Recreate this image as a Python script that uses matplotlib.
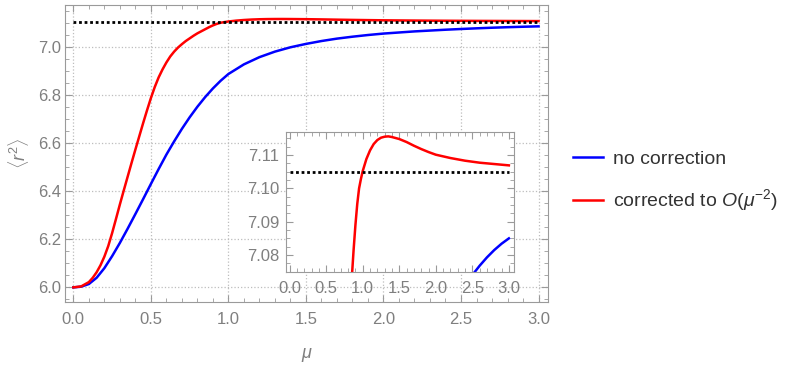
import matplotlib
matplotlib.use("Agg")
import matplotlib.pyplot as plt
from matplotlib.ticker import MultipleLocator

plt.rcParams['font.family'] = ['Liberation Sans', 'DejaVu Sans']
plt.rcParams['mathtext.fontset'] = 'custom'
plt.rcParams['mathtext.rm'] = 'Liberation Sans'
plt.rcParams['mathtext.it'] = 'Liberation Sans:italic'

# values
mu_blue = [0, 0.05, 0.1, 0.15, 0.2, 0.25, 0.3, 0.35, 0.4, 0.45, 0.5, 0.55, 0.6,
           0.65, 0.7, 0.75, 0.8, 0.85, 0.9, 0.95, 1.0, 1.1, 1.2, 1.3, 1.4, 1.5,
           1.6, 1.7, 1.8, 1.9, 2.0, 2.2, 2.4, 2.5, 2.6, 2.7, 2.8, 2.9, 3.0]
r2_blue = [6.0, 6.003, 6.014, 6.04, 6.08, 6.13, 6.185, 6.244, 6.305, 6.367,
           6.43, 6.492, 6.552, 6.607, 6.659, 6.707, 6.751, 6.791, 6.827, 6.859,
           6.887, 6.927, 6.957, 6.98, 6.998, 7.012, 7.024, 7.034, 7.042, 7.049,
           7.055, 7.064, 7.071, 7.074, 7.0768, 7.0793, 7.0815, 7.0834, 7.085]

mu_red = [0, 0.05, 0.1, 0.125, 0.15, 0.175, 0.2, 0.225, 0.25, 0.275, 0.3,
          0.325, 0.35, 0.375, 0.4, 0.425, 0.45, 0.475, 0.5, 0.525, 0.55, 0.575,
          0.6, 0.625, 0.65, 0.675, 0.7, 0.725, 0.75, 0.775, 0.8, 0.85, 0.875,
          0.9, 0.925, 0.95, 0.975, 1.0, 1.05, 1.1, 1.15, 1.2, 1.25, 1.3, 1.35,
          1.4, 1.5, 1.6, 1.7, 1.8, 1.9, 2.0, 2.2, 2.4, 2.6, 2.8, 3.0]
r2_red = [6.0, 6.004, 6.022, 6.04, 6.063, 6.092, 6.128, 6.172, 6.226, 6.285,
          6.345, 6.403, 6.46, 6.517, 6.573, 6.628, 6.683, 6.736, 6.787, 6.833,
          6.873, 6.906, 6.935, 6.96, 6.98, 6.997, 7.011, 7.024, 7.035, 7.046,
          7.056, 7.073, 7.0815, 7.089, 7.0953, 7.1, 7.1028, 7.1052, 7.1088,
          7.1114, 7.1133, 7.1145, 7.1152, 7.1155, 7.1156, 7.1154, 7.1148,
          7.1139, 7.1128, 7.1118, 7.1109, 7.1101, 7.1091, 7.1083, 7.1077,
          7.1073, 7.1069]

mu_limit = [0, 3]
r2_limit = [7.105, 7.105]

labels = ["no correction", r"corrected to $O(\mu^{-2})$"]

gray = "#7f7f7f"
frame = "#9a9a9a"

fig = plt.figure(figsize=(7.89, 3.68), dpi=100)
ax = fig.add_axes([65/789, 1-302.3/368, (548.3-65)/789, (302.3-4.7)/368])


def style(a):
    for s in a.spines.values():
        s.set_color(frame)
    a.tick_params(which='both', direction='in', top=True, right=True,
                  color=frame, labelcolor=gray, labelsize=12)
    a.tick_params(which='major', length=5)
    a.tick_params(which='minor', length=3)


lb, = ax.plot(mu_blue, r2_blue, color='#0000ff', lw=1.8)
lr, = ax.plot(mu_red, r2_red, color='#ff0000', lw=1.8)
ax.plot(mu_limit, r2_limit, color='black', lw=2, ls=(0, (1, 1)), zorder=5)
ax.set_xlim(-0.054, 3.063)
ax.set_ylim(5.938, 7.175)
ax.xaxis.set_major_locator(MultipleLocator(0.5))
ax.xaxis.set_minor_locator(MultipleLocator(0.1))
ax.yaxis.set_minor_locator(MultipleLocator(0.05))
ax.set_yticks([6.0, 6.2, 6.4, 6.6, 6.8, 7.0])
ax.grid(True, which='major', ls=':', color='#bdbdbd', lw=0.9)
style(ax)
ax.tick_params(axis='x', pad=7)
ax.tick_params(axis='y', pad=3)
ax.set_xlabel(r"$\mu$", color=gray, fontsize=13, labelpad=14)
ax.set_ylabel(r"$\langle r^2\rangle$", color=gray, fontsize=13, labelpad=5)

ins = fig.add_axes([286/789, 1-271.7/368, (514-286)/789, (271.7-131.7)/368])
ins.set_facecolor('white')
ins.plot(mu_blue, r2_blue, color='#0000ff', lw=1.8)
ins.plot(mu_red, r2_red, color='#ff0000', lw=1.8)
ins.plot(mu_limit, r2_limit, color='black', lw=2, ls=(0, (1, 1)), zorder=5)
ins.set_xlim(-0.05, 3.07)
ins.set_ylim(7.075, 7.117)
ins.xaxis.set_major_locator(MultipleLocator(0.5))
ins.xaxis.set_minor_locator(MultipleLocator(0.1))
ins.yaxis.set_major_locator(MultipleLocator(0.01))
ins.yaxis.set_minor_locator(MultipleLocator(0.0025))
style(ins)
ins.tick_params(axis='x', pad=7)
ins.tick_params(axis='y', pad=5)

fig.legend([lb, lr], labels, loc='center left', bbox_to_anchor=(572.7/789, 1-182/368),
           frameon=False, fontsize=14, handlelength=1.55, handletextpad=0.52,
           labelspacing=1.0, borderpad=0, borderaxespad=0, labelcolor='#333333')

fig.savefig("out.png", dpi=100)
